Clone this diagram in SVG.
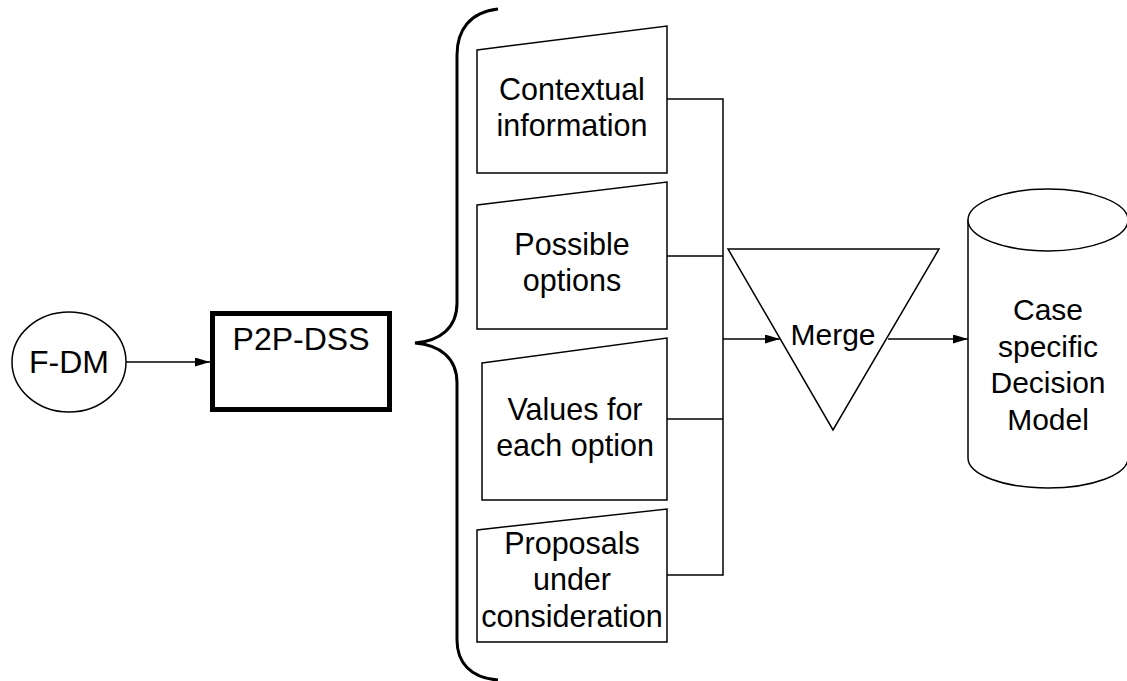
<svg xmlns="http://www.w3.org/2000/svg" width="1127" height="681" viewBox="0 0 1127 681">
  <defs>
    <marker id="arrow" viewBox="0 0 15 9" refX="15" refY="4.5" markerWidth="15" markerHeight="9" markerUnits="userSpaceOnUse" orient="auto">
      <path d="M0,0 L15,4.5 L0,9 Z" fill="#000"/>
    </marker>
    <style>
      .shape { fill: #fff; stroke: #000; stroke-width: 1.5; }
      .thick { fill: #fff; stroke: #000; stroke-width: 5; }
      .wire { fill: none; stroke: #000; stroke-width: 1.5; }
      .brace { fill: none; stroke: #000; stroke-width: 3; }
      .label { font-family: "Liberation Sans", Arial, sans-serif; font-size: 30px; fill: #000; text-anchor: middle; }
      .big { font-size: 32px; }
      .mid { font-size: 30.5px; }
    </style>
  </defs>
  <rect width="1127" height="681" fill="#fff"/>

  <!-- connectors -->
  <g id="connectors">
    <line class="wire" x1="126" y1="362" x2="210" y2="362" marker-end="url(#arrow)"/>
    <polyline class="wire" points="667,99 723,99 723,575 667,575"/>
    <line class="wire" x1="667" y1="256" x2="723" y2="256"/>
    <line class="wire" x1="667" y1="419" x2="723" y2="419"/>
    <line class="wire" x1="723" y1="339" x2="780" y2="339" marker-end="url(#arrow)"/>
    <line class="wire" x1="888" y1="339" x2="968" y2="339" marker-end="url(#arrow)"/>
  </g>

  <!-- source -->
  <g id="fdm">
    <ellipse class="shape" cx="69" cy="362" rx="57" ry="50"/>
    <text class="label big" x="69" y="373">F-DM</text>
  </g>

  <!-- support system -->
  <g id="p2pdss">
    <rect class="thick" x="212.5" y="313.5" width="177" height="96"/>
    <text class="label big" x="301" y="350">P2P-DSS</text>
  </g>

  <!-- curly brace -->
  <g id="brace">
    <path class="brace" d="M498,9 C470,12 457,30 457,55 L457,303 C457,328 440,341 415,343 C440,345 457,358 457,383 L457,640 C457,662 470,678 498,680"/>
  </g>

  <!-- manual inputs -->
  <g id="contextual">
    <polygon class="shape" points="477,50 667,26 667,173 477,173"/>
    <text class="label mid" x="572" y="100">Contextual</text>
    <text class="label mid" x="572" y="136">information</text>
  </g>
  <g id="options">
    <polygon class="shape" points="477,205 667,182 667,329 477,329"/>
    <text class="label mid" x="572" y="255">Possible</text>
    <text class="label mid" x="572" y="291">options</text>
  </g>
  <g id="values">
    <polygon class="shape" points="482,363 667,338 667,500 482,500"/>
    <text class="label mid" x="575" y="420">Values for</text>
    <text class="label mid" x="575" y="456">each option</text>
  </g>
  <g id="proposals">
    <polygon class="shape" points="477,530 667,509 667,642 477,642"/>
    <text class="label mid" x="572" y="554">Proposals</text>
    <text class="label mid" x="572" y="590">under</text>
    <text class="label mid" x="572" y="627">consideration</text>
  </g>

  <!-- merge -->
  <g id="merge">
    <polygon class="shape" points="728,249 939,249 833,430"/>
    <text class="label" x="833" y="345">Merge</text>
  </g>

  <!-- result store -->
  <g id="model">
    <path class="shape" d="M968,220 L968,458 A80,30 0 0 0 1128,458 L1128,220"/>
    <ellipse class="shape" cx="1048" cy="220" rx="80" ry="31"/>
    <text class="label" x="1048" y="320">Case</text>
    <text class="label" x="1048" y="357">specific</text>
    <text class="label" x="1048" y="393">Decision</text>
    <text class="label" x="1048" y="430">Model</text>
  </g>
</svg>
